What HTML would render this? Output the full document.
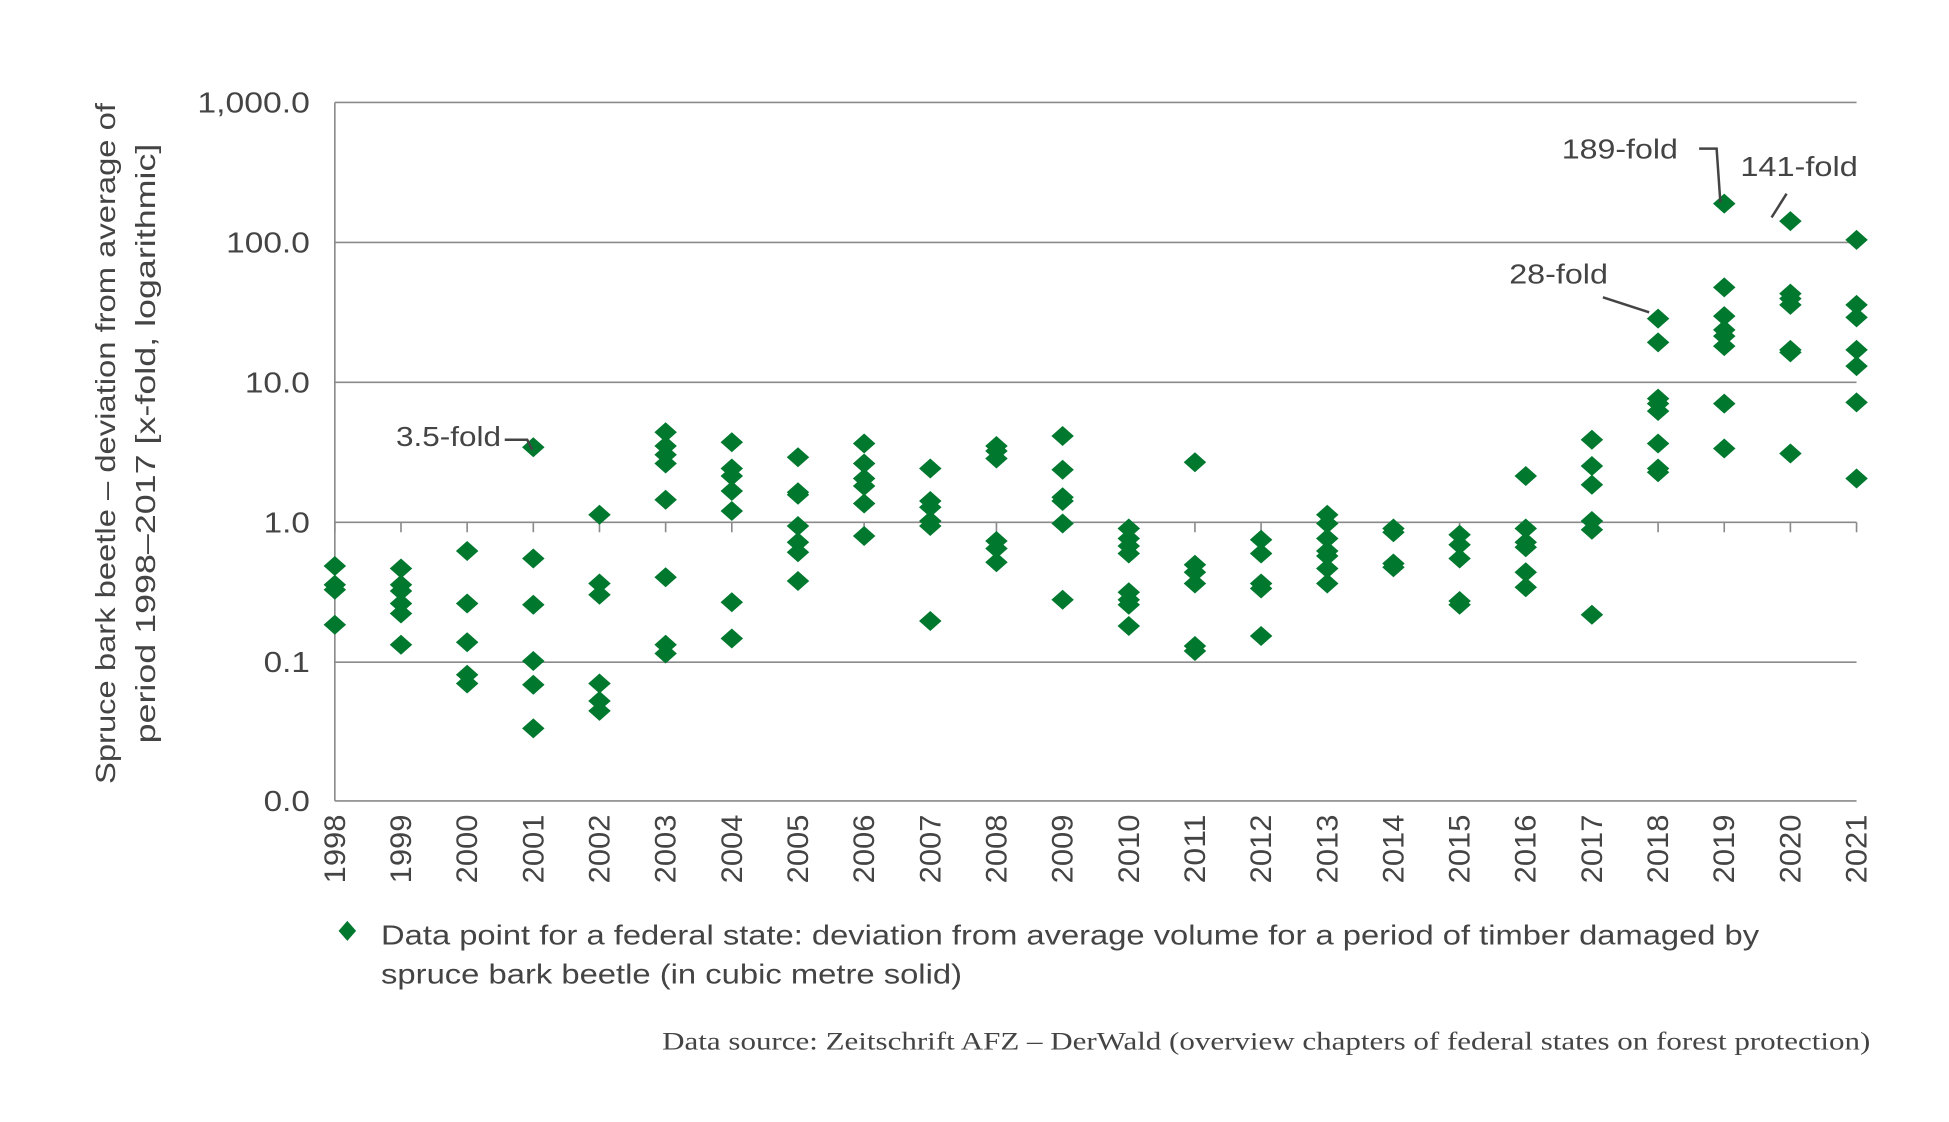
<!DOCTYPE html>
<html><head><meta charset="utf-8"><style>
html,body{margin:0;padding:0;background:#fff;}
svg{display:block;}
text{font-family:"Liberation Sans",sans-serif;fill:#444;}
</style></head><body>
<svg width="1949" height="1122" viewBox="0 0 1560 898" preserveAspectRatio="none" xmlns="http://www.w3.org/2000/svg">
<g stroke="#8a8a8a" stroke-width="1.3">
<line x1="268" y1="82" x2="1486" y2="82"/>
<line x1="268" y1="194" x2="1486" y2="194"/>
<line x1="268" y1="306" x2="1486" y2="306"/>
<line x1="268" y1="418" x2="1486" y2="418"/>
<line x1="268" y1="530" x2="1486" y2="530"/>
<line x1="268" y1="641" x2="1486" y2="641"/>
<line x1="268" y1="82" x2="268" y2="641"/>
</g>
<g id="ticks" stroke="#8a8a8a" stroke-width="1.3"></g>
<g font-size="23" text-anchor="end">
<text x="248" y="90" textLength="90" lengthAdjust="spacingAndGlyphs">1,000.0</text>
<text x="248" y="202" textLength="67" lengthAdjust="spacingAndGlyphs">100.0</text>
<text x="248" y="314" textLength="52" lengthAdjust="spacingAndGlyphs">10.0</text>
<text x="248" y="426" textLength="37" lengthAdjust="spacingAndGlyphs">1.0</text>
<text x="248" y="538" textLength="37" lengthAdjust="spacingAndGlyphs">0.1</text>
<text x="248" y="649" textLength="37" lengthAdjust="spacingAndGlyphs">0.0</text>
</g>
<g font-size="22" text-anchor="middle">
<text transform="translate(92,355) rotate(-90)" textLength="545" lengthAdjust="spacingAndGlyphs">Spruce bark beetle – deviation from average of</text>
<text transform="translate(124,355) rotate(-90)" textLength="480" lengthAdjust="spacingAndGlyphs">period 1998–2017 [x-fold, logarithmic]</text>
</g>
<g id="xl" font-size="24" text-anchor="end"></g>
<g id="pts" fill="#00782d"></g>
<g font-size="22">
<text x="317" y="357" textLength="84" lengthAdjust="spacingAndGlyphs">3.5-fold</text>
<text x="1250" y="127" textLength="93" lengthAdjust="spacingAndGlyphs">189-fold</text>
<text x="1393" y="141" textLength="94" lengthAdjust="spacingAndGlyphs">141-fold</text>
<text x="1208" y="227" textLength="79" lengthAdjust="spacingAndGlyphs">28-fold</text>
</g>
<g stroke="#444" stroke-width="2" fill="none">
<polyline points="404,352 422,352 426,360"/>
<polyline points="1360,119 1374,119 1377,162"/>
<polyline points="1430,155 1418,174"/>
<polyline points="1283,238 1320,250"/>
</g>
<polygon points="278,737 285,745 278,753 271,745" fill="#00782d"/>
<g font-size="22">
<text x="305" y="756" textLength="1103" lengthAdjust="spacingAndGlyphs">Data point for a federal state: deviation from average volume for a period of timber damaged by</text>
<text x="305" y="787" textLength="465" lengthAdjust="spacingAndGlyphs">spruce bark beetle (in cubic metre solid)</text>
</g>
<text x="1497" y="840" text-anchor="end" font-size="20" style="font-family:'Liberation Serif',serif" textLength="967" lengthAdjust="spacingAndGlyphs">Data source: Zeitschrift AFZ – DerWald (overview chapters of federal states on forest protection)</text>
<script>
var d={1998:[453,468,472,500],1999:[455,468,473,483,491,516],2000:[441,483,514,540,547],2001:[358,447,484,529,548,583],2002:[412,467,476,547,561,569],2003:[346,357,364,371,400,462,516,523],2004:[354,375,381,393,409,482,511],2005:[366,394,396,421,434,442,465],2006:[355,371,383,389,403,429],2007:[375,401,406,417,421,497],2008:[357,361,367,433,439,450],2009:[349,376,398,401,419,480],2010:[423,431,437,443,474,480,484,501],2011:[370,452,458,467,517,521],2012:[432,443,467,471,509],2013:[412,419,431,441,445,455,467],2014:[423,426,451,454],2015:[428,436,447,481,484],2016:[381,423,434,438,458,470],2017:[352,373,388,417,424,492],2018:[255,274,319,323,329,355,375,378],2019:[163,230,253,264,269,277,323,359],2020:[177,235,239,244,280,282,363],2021:[192,244,254,280,293,322,383]};
var ns="http://www.w3.org/2000/svg",P=document.getElementById('pts'),T=document.getElementById('ticks'),X=document.getElementById('xl');
for(var y=1998;y<=2021;y++){var x=268+(y-1998)*52.957;
var l=document.createElementNS(ns,'line');l.setAttribute('x1',x);l.setAttribute('x2',x);l.setAttribute('y1',418);l.setAttribute('y2',426);T.appendChild(l);
var t=document.createElementNS(ns,'text');t.setAttribute('transform','translate('+(x+8)+',652) rotate(-90)');t.setAttribute('textLength','55');t.setAttribute('lengthAdjust','spacingAndGlyphs');t.textContent=y;X.appendChild(t);
d[y].forEach(function(v){var p=document.createElementNS(ns,'polygon');p.setAttribute('points',(x-9)+','+v+' '+x+','+(v-8)+' '+(x+9)+','+v+' '+x+','+(v+8));P.appendChild(p);});}
</script>
</svg>
</body></html>
